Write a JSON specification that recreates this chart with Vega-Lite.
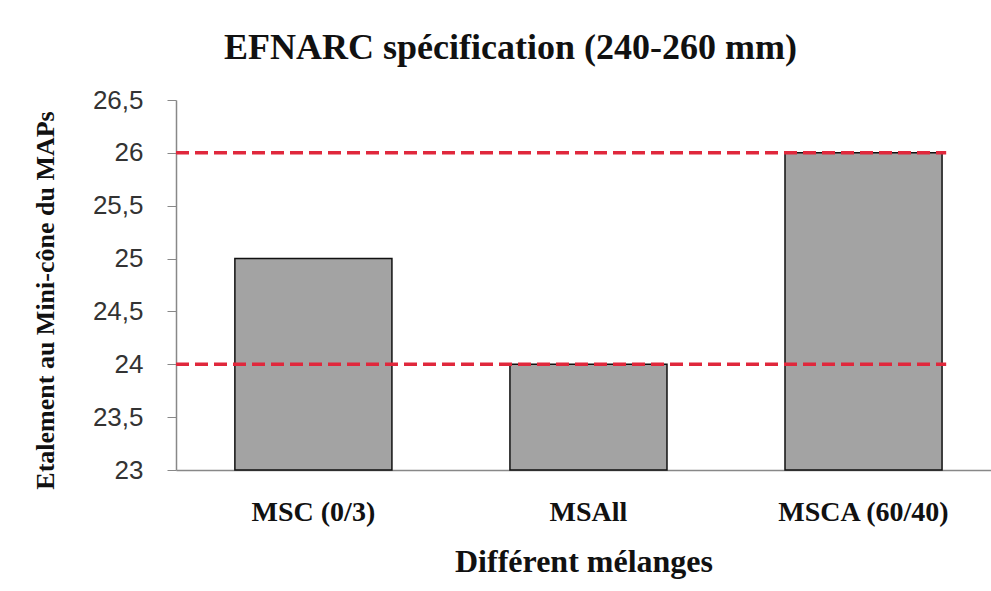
{
  "$schema": "https://vega.github.io/schema/vega-lite/v6.json",
  "width": 815,
  "height": 370,
  "autosize": {"type": "none"},
  "padding": {"left": 176, "top": 100, "right": 0, "bottom": 121},
  "background": "white",
  "title": {
    "text": "EFNARC spécification (240-260 mm)",
    "font": "Liberation Serif",
    "fontSize": 36,
    "fontWeight": "bold",
    "color": "#111111",
    "offset": 20,
    "dx": -73
  },
  "config": {"view": {"stroke": null}},
  "resolve": {"scale": {"x": "independent"}, "axis": {"x": "independent"}},
  "datasets": {
    "bars": [
      {"melange": "MSC (0/3)", "etalement": 25},
      {"melange": "MSAll", "etalement": 24},
      {"melange": "MSCA (60/40)", "etalement": 26}
    ],
    "limits": [
      {"limite": 24, "debut": 0, "fin": 0.945},
      {"limite": 26, "debut": 0, "fin": 0.945}
    ]
  },
  "layer": [
    {
      "data": {"name": "bars"},
      "mark": {"type": "bar", "fill": "#a3a3a3", "stroke": "#111111", "strokeWidth": 1.5},
      "encoding": {
        "x": {
          "field": "melange",
          "type": "nominal",
          "sort": null,
          "scale": {"paddingInner": 0.429, "paddingOuter": 0.196, "align": 0.546},
          "axis": {
            "title": "Différent mélanges",
            "titleFont": "Liberation Serif",
            "titleFontSize": 32,
            "titleFontWeight": "bold",
            "titleColor": "#111111",
            "titlePadding": 20,
            "labelFont": "Liberation Serif",
            "labelFontSize": 28,
            "labelFontWeight": "bold",
            "labelColor": "#111111",
            "labelAngle": 0,
            "labelPadding": 28,
            "ticks": false,
            "domainColor": "#888888",
            "domainWidth": 1.5
          }
        },
        "y": {
          "field": "etalement",
          "type": "quantitative",
          "scale": {"domain": [23, 26.5], "zero": false, "nice": false},
          "axis": {
            "title": "Etalement au Mini-cône du MAPs",
            "titleFont": "Liberation Serif",
            "titleFontSize": 26,
            "titleFontWeight": "bold",
            "titleColor": "#111111",
            "titlePadding": 34,
            "titleY": 200,
            "values": [23, 23.5, 24, 24.5, 25, 25.5, 26, 26.5],
            "labelExpr": "replace(format(datum.value, '~g'), '.', ',')",
            "labelFont": "Liberation Sans",
            "labelFontSize": 26,
            "labelColor": "#333333",
            "labelPadding": 24,
            "tickSize": 9,
            "tickColor": "#888888",
            "domainColor": "#888888",
            "domainWidth": 1.5,
            "grid": false
          }
        },
        "y2": {"datum": 23}
      }
    },
    {
      "data": {"name": "limits"},
      "mark": {"type": "rule", "color": "#e0283c", "strokeWidth": 3.5, "strokeDash": [13, 6]},
      "encoding": {
        "y": {"field": "limite", "type": "quantitative"},
        "x": {"field": "debut", "type": "quantitative", "scale": {"domain": [0, 1], "nice": false}, "axis": null},
        "x2": {"field": "fin"}
      }
    }
  ]
}
